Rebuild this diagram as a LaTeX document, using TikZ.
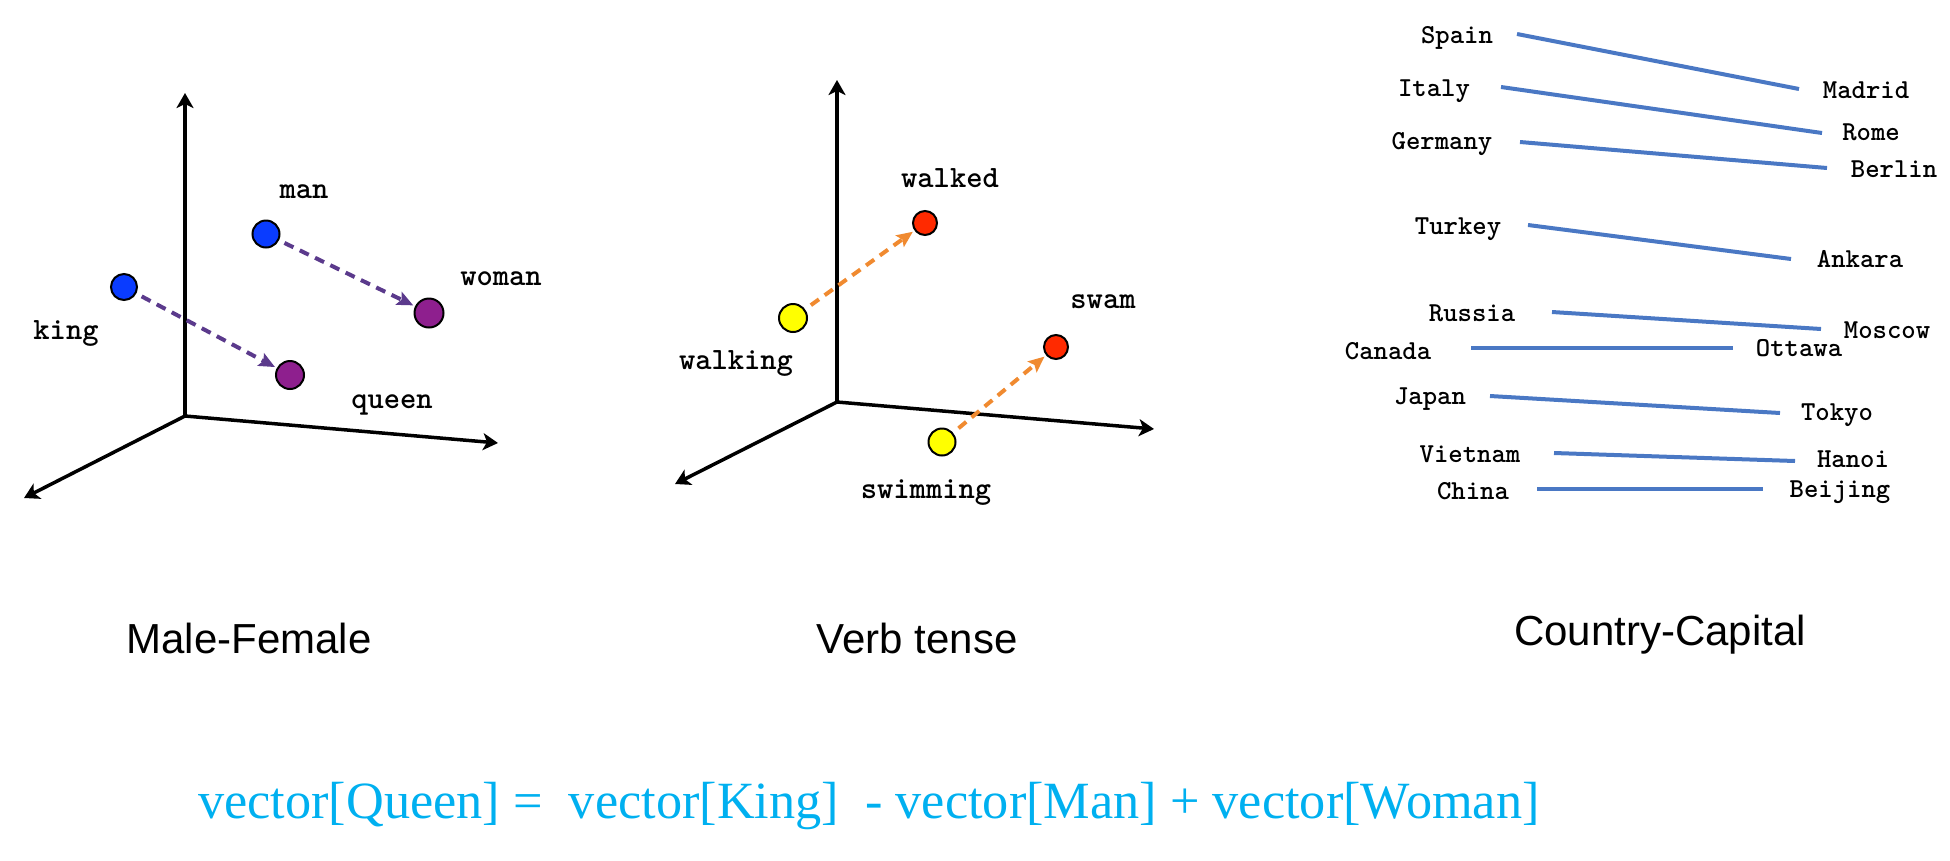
\documentclass[tikz,border=0pt]{standalone}
\usepackage{fontspec}
\setmainfont{Liberation Serif}
\newfontfamily\arialfont{Liberation Sans}
\usetikzlibrary{arrows.meta}
\definecolor{dotblue}{HTML}{0A3CFF}
\definecolor{dotpurple}{HTML}{8E1F8E}
\definecolor{dotyellow}{HTML}{FFFF00}
\definecolor{dotred}{HTML}{FF2A00}
\definecolor{arrpurple}{HTML}{5B3A8C}
\definecolor{arrorange}{HTML}{F08A30}
\definecolor{capline}{HTML}{4A78C4}
\definecolor{formulacyan}{HTML}{00B0F0}
\begin{document}
\begin{tikzpicture}[x=1pt,y=-1pt,
  axis/.style={line width=3.5pt,-{Stealth[length=15pt,width=17pt,inset=4pt]}},
  dotnode/.style={circle,draw=black,line width=2pt,inner sep=0pt,minimum size=#1},
  word/.style={font=\ttfamily\bfseries\fontsize{31}{34}\selectfont,anchor=base,inner sep=0pt},
  cityword/.style={font=\ttfamily\bfseries\fontsize{27.4}{30}\selectfont,anchor=base,inner sep=0pt},
  title/.style={font=\arialfont\fontsize{42}{48}\selectfont,anchor=base,inner sep=0pt},
  vecarrow/.style={line width=4pt,dash pattern=on 10pt off 7pt,-{Stealth[length=16pt,width=14pt,inset=3pt]}},
  capconn/.style={capline,line width=4pt},
]
\useasboundingbox (0,0) rectangle (1950,860);

% ---------- Panel 1: Male-Female ----------
\coordinate (o1) at (185,416);
\coordinate (o1up) at (185,93);
\coordinate (o1right) at (498,443);
\coordinate (o1left) at (24,498);
\draw[axis] (o1) -- (o1up);
\draw[axis] (o1) -- (o1right);
\draw[axis] (o1) -- (o1left);

\node[dotnode=27pt,fill=dotblue] (man) at (266,234) {};
\node[dotnode=26pt,fill=dotblue] (king) at (124,287) {};
\node[dotnode=29pt,fill=dotpurple] (woman) at (429,313) {};
\node[dotnode=28pt,fill=dotpurple] (queen) at (290,375) {};

\draw[vecarrow,arrpurple,shorten <=6pt,shorten >=2pt] (man) -- (woman);
\draw[vecarrow,arrpurple,shorten <=6pt,shorten >=2pt] (king) -- (queen);

\node[word] (lman) at (304,198) {man};
\node[word] (lking) at (66,339) {king};
\node[word] (lwoman) at (501,285) {woman};
\node[word] (lqueen) at (392,408) {queen};

\node[title] (t1) at (249,653) {Male-Female};

% ---------- Panel 2: Verb tense ----------
\coordinate (o2) at (837,402);
\coordinate (o2up) at (837,80);
\coordinate (o2right) at (1154,429);
\coordinate (o2left) at (675,484);
\draw[axis] (o2) -- (o2up);
\draw[axis] (o2) -- (o2right);
\draw[axis] (o2) -- (o2left);

\node[dotnode=24pt,fill=dotred] (walked) at (925,223) {};
\node[dotnode=28pt,fill=dotyellow] (walking) at (793,318) {};
\node[dotnode=24pt,fill=dotred] (swam) at (1056,347) {};
\node[dotnode=27pt,fill=dotyellow] (swimming) at (942,442) {};

\draw[vecarrow,arrorange,shorten <=7pt,shorten >=2pt] (walking) -- (walked);
\draw[vecarrow,arrorange,shorten <=7pt,shorten >=2pt] (swimming) -- (swam);

\node[word] (lwalked) at (950,187) {walked};
\node[word] (lswam) at (1103,308) {swam};
\node[word] (lwalking) at (736,369) {walking};
\node[word] (lswimming) at (926,498) {swimming};

\node[title] (t2) at (917,653) {Verb tense};

% ---------- Panel 3: Country-Capital ----------
\node[cityword] (spain) at (1457,43) {Spain};
\node[cityword] (madrid) at (1866,98) {Madrid};
\node[cityword] (italy) at (1434,96) {Italy};
\node[cityword] (rome) at (1871,140) {Rome};
\node[cityword] (germany) at (1442,149) {Germany};
\node[cityword] (berlin) at (1894,177) {Berlin};
\node[cityword] (turkey) at (1458,234) {Turkey};
\node[cityword] (ankara) at (1860,267) {Ankara};
\node[cityword] (russia) at (1472,321) {Russia};
\node[cityword] (moscow) at (1887,338) {Moscow};
\node[cityword] (canada) at (1388,359) {Canada};
\node[cityword] (ottawa) at (1799,356) {Ottawa};
\node[cityword] (japan) at (1430,404) {Japan};
\node[cityword] (tokyo) at (1837,420) {Tokyo};
\node[cityword] (vietnam) at (1470,462) {Vietnam};
\node[cityword] (hanoi) at (1853,467) {Hanoi};
\node[cityword] (china) at (1473,499) {China};
\node[cityword] (beijing) at (1840,497) {Beijing};

\coordinate (spainR) at (1517,34);   \coordinate (madridL) at (1799,89);
\coordinate (italyR) at (1501,87);   \coordinate (romeL) at (1822,133);
\coordinate (germanyR) at (1520,142);\coordinate (berlinL) at (1827,168);
\coordinate (turkeyR) at (1528,225); \coordinate (ankaraL) at (1791,259);
\coordinate (russiaR) at (1552,312); \coordinate (moscowL) at (1821,329);
\coordinate (canadaR) at (1471,348); \coordinate (ottawaL) at (1733,348);
\coordinate (japanR) at (1490,396);  \coordinate (tokyoL) at (1780,413);
\coordinate (vietnamR) at (1554,453);\coordinate (hanoiL) at (1795,461);
\coordinate (chinaR) at (1537,489);  \coordinate (beijingL) at (1763,489);

\draw[capconn] (spainR) -- (madridL);
\draw[capconn] (italyR) -- (romeL);
\draw[capconn] (germanyR) -- (berlinL);
\draw[capconn] (turkeyR) -- (ankaraL);
\draw[capconn] (russiaR) -- (moscowL);
\draw[capconn] (canadaR) -- (ottawaL);
\draw[capconn] (japanR) -- (tokyoL);
\draw[capconn] (vietnamR) -- (hanoiL);
\draw[capconn] (chinaR) -- (beijingL);

\node[title] (t3) at (1660,645) {Country-Capital};

% ---------- Formula ----------
\node[font=\fontsize{52.3}{60}\selectfont,text=formulacyan,anchor=base west,inner sep=0pt] (formula) at (198,818)
  {vector[Queen] =\ \ vector[King]\ \ - vector[Man] + vector[Woman]};
\end{tikzpicture}
\end{document}
